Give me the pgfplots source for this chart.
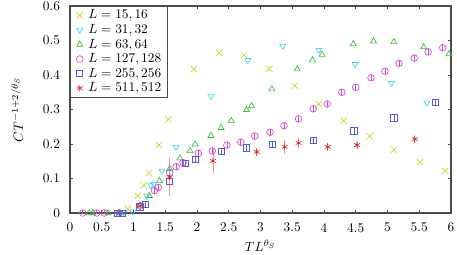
\documentclass[border=0pt]{standalone}
\usepackage{pgfplots}
\pgfplotsset{compat=1.18}
\definecolor{cA}{RGB}{215,208,40}
\definecolor{cB}{RGB}{70,210,225}
\definecolor{cC}{RGB}{60,185,60}
\definecolor{cD}{RGB}{210,70,210}
\definecolor{cE}{RGB}{90,90,210}
\definecolor{cF}{RGB}{210,40,40}
\begin{document}
\begin{tikzpicture}
\useasboundingbox (-52.5pt,-30.75pt) rectangle (290.25pt,159.75pt);
\begin{axis}[
  at={(0pt,0pt)}, anchor=south west,
  scale only axis,
  width=285.75pt, height=155.25pt,
  xmin=0, xmax=6, ymin=0, ymax=0.6,
  xtick={0,0.5,...,6}, ytick={0,0.1,...,0.6},
  xticklabels={0,0.5,1,1.5,2,2.5,3,3.5,4,4.5,5,5.5,6},
  yticklabels={0,0.1,0.2,0.3,0.4,0.5,0.6},
  xticklabel style={yshift=-4pt},
  yticklabel style={xshift=-4pt},
  tick align=inside, major tick length=2.5pt,
  axis line style={draw=black!70, line width=0.8pt},
  tick style={black!70, line width=0.6pt},
  xlabel={$TL^{\theta_S}$}, ylabel={$CT^{-1+2/\theta_S}$},
  every axis x label/.style={at={(axis description cs:0.5,-0.1594)}, anchor=center},
  every axis y label/.style={at={(axis description cs:-0.1391,0.5)}, anchor=center, rotate=90},
  legend cell align=left,
  legend style={at={(axis description cs:0,1)}, anchor=north west,
    draw=black!70, line width=0.6pt, inner xsep=2.5pt, inner ysep=0.5pt,
    row sep=-1.4pt, nodes={inner sep=2pt}},
  every axis plot/.append style={only marks, line width=0.5pt,
    legend image code/.code={\path (0cm,0cm) (0.3cm,0cm); \draw[##1] plot coordinates {(0.15cm,0cm)};}},
  error bars/error bar style={line width=0.5pt},
  error bars/error mark options={mark size=2pt, line width=0.5pt},
]
\addplot[cA, mark=x, mark size=3.4pt] coordinates {
(0.91,0.012)(1.07,0.05)(1.16,0.08)(1.24,0.116)(1.40,0.197)(1.55,0.272)(1.95,0.417)(2.35,0.464)(2.74,0.458)(3.14,0.418)(3.54,0.369)(3.92,0.316)(4.31,0.267)(4.72,0.223)(5.10,0.183)(5.51,0.148)(5.91,0.122)};
\addlegendentry{$L=15,16$}
\addplot[cB, mark=triangle, mark size=2.6pt, mark options={rotate=180}] coordinates {
(0.85,0.002)(0.99,0.004)(1.21,0.05)(1.27,0.08)(1.32,0.084)(1.45,0.122)(1.67,0.191)(2.22,0.339)(2.80,0.443)(3.35,0.484)(3.92,0.472)(4.49,0.431)(5.06,0.376)(5.62,0.320)};
\addlegendentry{$L=31,32$}
\addplot[cC, mark=triangle, mark size=2.6pt] coordinates {
(0.30,0.0)(0.36,0.0)(0.60,0.0)(0.78,0.0)(1.10,0.022)(1.25,0.05)(1.41,0.093)(1.57,0.128)(1.73,0.159)(1.89,0.18)(1.97,0.199)(2.22,0.224)(2.38,0.247)(2.54,0.267)(2.78,0.299)(2.86,0.310)(3.18,0.359)(3.58,0.417)(3.82,0.443)(3.97,0.459)(4.46,0.490)(4.78,0.498)(5.10,0.496)(5.57,0.481)(5.97,0.461)};
\addlegendentry{$L=63,64$}
\addplot[cD, mark=o, mark size=2.5pt, error bars/.cd, y dir=both, y fixed=0.0015] coordinates {
(0.20,0.0)(0.42,0.0)(0.54,0.0)(0.77,0.0)(1.11,0.02)(1.33,0.065)(1.39,0.074)(1.57,0.117)(1.67,0.134)(1.78,0.146)(2.02,0.173)(2.24,0.18)(2.47,0.197)(2.69,0.205)(2.91,0.223)(3.15,0.234)(3.37,0.253)(3.60,0.273)(3.83,0.302)(4.05,0.316)(4.28,0.35)(4.50,0.364)(4.74,0.392)(4.96,0.411)(5.18,0.434)(5.42,0.449)(5.64,0.467)(5.87,0.479)};
\addlegendentry{$L=127,128$}
\addplot[cE, mark=square, mark size=2.3pt, error bars/.cd, y dir=both, y fixed=0.0015] coordinates {
(0.75,0.0)(0.82,0.0)(1.10,0.018)(1.18,0.024)(1.57,0.093)(1.81,0.143)(1.98,0.156)(2.38,0.179)(2.78,0.189)(3.19,0.2)(3.83,0.211)(4.47,0.238)(5.10,0.276)(5.75,0.321)};
\addlegendentry{$L=255,256$}
\addplot[cF, mark=asterisk, mark size=2.5pt, error bars/.cd, y dir=both, y explicit, error bar style={cF!50}] coordinates {
(1.10,0.02) +- (0,0.003)
(1.57,0.104) +- (0,0.047)
(2.25,0.151) +- (0,0.028)
(2.94,0.177) +- (0,0.005)
(3.38,0.192) +- (0,0.012)
(3.60,0.203) +- (0,0.006)
(4.06,0.192) +- (0,0.004)
(4.52,0.197) +- (0,0.004)
(5.43,0.214) +- (0,0.004)};
\addlegendentry{$L=511,512$}
\end{axis}
\end{tikzpicture}
\end{document}
